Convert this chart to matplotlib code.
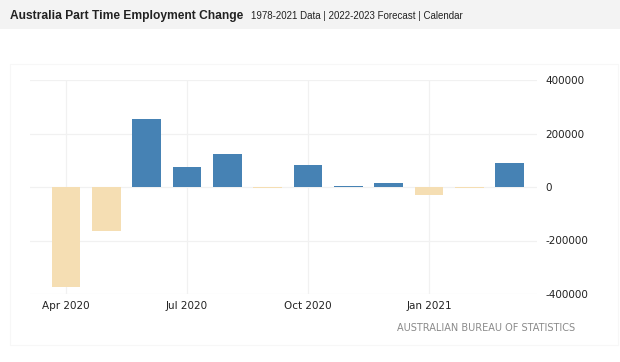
import matplotlib
matplotlib.use('Agg')
import matplotlib.pyplot as plt
from matplotlib.patches import Rectangle

# --- DATA ---
months = ['Apr 2020', 'May 2020', 'Jun 2020', 'Jul 2020', 'Aug 2020', 'Sep 2020',
          'Oct 2020', 'Nov 2020', 'Dec 2020', 'Jan 2021', 'Feb 2021', 'Mar 2021']
change = [-373000, -163000, 253000, 76000, 122000, -3000,
          81000, 5000, 14000, -30000, -2000, 91000]
tick_months = ['Apr 2020', 'Jul 2020', 'Oct 2020', 'Jan 2021']
y_ticks = [-400000, -200000, 0, 200000, 400000]

BLUE = '#4682b4'
WHEAT = '#f5deb3'
W, H = 620, 362

fig = plt.figure(figsize=(W / 100, H / 100), dpi=100, facecolor='white')

# header band
fig.patches.append(Rectangle((0, 1 - 29 / H), 1, 29 / H, transform=fig.transFigure,
                             facecolor='#f3f3f3', edgecolor='none', zorder=0))
fig.text(10 / W, 1 - 16 / H, 'Australia Part Time Employment Change', fontsize=8.65,
         fontweight='bold', family='Liberation Sans', color='#222222', va='center')
fig.text(251 / W, 1 - 16 / H, '1978-2021 Data | 2022-2023 Forecast | Calendar',
         fontsize=7.05, family='Liberation Sans', color='#222222', va='center')

# faint outer frame around chart area
fig.patches.append(Rectangle((10 / W, 1 - 345 / H), 608 / W, 281 / H, transform=fig.transFigure,
                             facecolor='none', edgecolor='#f7f7f7', linewidth=0.8, zorder=0))

ax = fig.add_axes([30 / W, 1 - 294 / H, 507 / W, 214 / H])
x = list(range(len(months)))
colors = [BLUE if v >= 0 else WHEAT for v in change]
ax.bar(x, change, width=0.71, color=colors, zorder=3)

px_per_month = 40.33
ax.set_xlim((30 - 66) / px_per_month, (537 - 66) / px_per_month)
ax.set_ylim(-400000, 400000)

ax.set_xticks([months.index(m) for m in tick_months])
ax.set_xticklabels(tick_months)
ax.set_yticks(y_ticks)
ax.set_yticklabels([str(v) for v in y_ticks])
ax.yaxis.tick_right()
ax.tick_params(axis='both', length=0, labelsize=7.5, colors='#222222')
ax.tick_params(axis='y', pad=6)
ax.tick_params(axis='x', pad=5)

ax.grid(True, color='#f1f1f1', linewidth=0.9, zorder=0)
for s in ax.spines.values():
    s.set_visible(False)

fig.text(575 / W, 1 - 328 / H, 'AUSTRALIAN BUREAU OF STATISTICS', fontsize=7,
         color='#8a8a8a', ha='right', va='center')

fig.savefig('out.png', dpi=100)
